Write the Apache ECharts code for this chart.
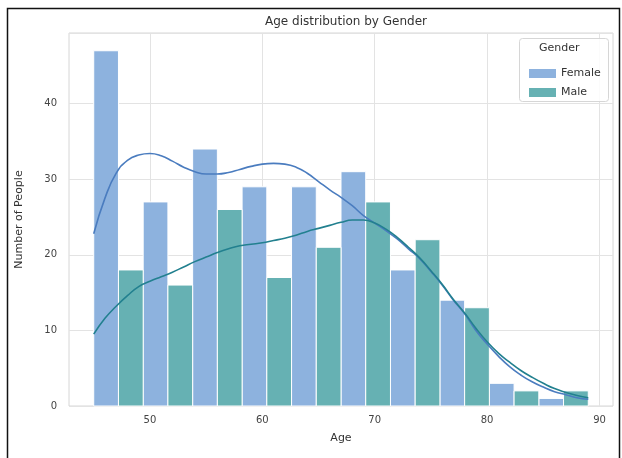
<!DOCTYPE html>
<html>
<head>
<meta charset="utf-8">
<script src="https://cdn.jsdelivr.net/npm/echarts@6/dist/echarts.min.js"></script>
<style>html,body{margin:0;padding:0;background:#fff;}#c{width:622px;height:458px;}</style>
</head>
<body>
<div id="c"></div>
<script>
// Histogram bin edges (Age)
const binEdges = [45, 49.4, 53.8, 58.2, 62.6, 67, 71.4, 75.8, 80.2, 84.6, 89];
// Counts per bin
const femaleCounts = [47, 27, 34, 29, 29, 31, 18, 14, 3, 1];
const maleCounts   = [18, 16, 26, 17, 21, 27, 22, 13, 2, 2];
// KDE curves [age, count]
const femaleKde = [[45,22.8],[46,27.5],[47,30.8],[48,32.5],[49,33.2],[50,33.4],[51,33.1],[52,32.4],[53,31.6],[54,31.0],[55,30.7],[56,30.7],[57,30.9],[58,31.3],[59,31.7],[60,32.0],[61,32.1],[62,32.0],[63,31.6],[64,30.8],[65,29.7],[66,28.6],[67,27.6],[68,26.5],[69,25.2],[70,24.2],[71,23.2],[72,22.1],[73,20.8],[74,19.5],[75,17.8],[76,16.0],[77,14.0],[78,12.2],[79,10.0],[80,8.2],[81,6.6],[82,5.2],[83,4.1],[84,3.2],[85,2.5],[86,1.9],[87,1.5],[88,1.1],[89,0.9]];
const maleKde = [[45,9.5],[46,11.6],[47,13.2],[48,14.6],[49,15.8],[50,16.5],[51,17.1],[52,17.7],[53,18.4],[54,19.1],[55,19.7],[56,20.3],[57,20.8],[58,21.2],[59,21.4],[60,21.6],[61,21.9],[62,22.2],[63,22.6],[64,23.1],[65,23.5],[66,23.9],[67,24.3],[68,24.6],[69,24.6],[70,24.2],[71,23.4],[72,22.3],[73,21.0],[74,19.6],[75,17.9],[76,16.1],[77,14.1],[78,12.3],[79,10.3],[80,8.5],[81,7.0],[82,5.8],[83,4.7],[84,3.8],[85,3.0],[86,2.3],[87,1.8],[88,1.4],[89,1.1]];
// Tick labels
const xTicks = [50, 60, 70, 80, 90];
const yTicks = [0, 10, 20, 30, 40];

const FEMALE_BAR = '#8db2de';
const MALE_BAR = '#66b1b3';
const FEMALE_LINE = '#4a7cbf';
const MALE_LINE = '#22808f';
const FONT = 'DejaVu Sans';

const femaleBars = femaleCounts.map((v, i) => [binEdges[i], (binEdges[i] + binEdges[i+1]) / 2, v]);
const maleBars = maleCounts.map((v, i) => [(binEdges[i] + binEdges[i+1]) / 2, binEdges[i+1], v]);

function makeRender(color) {
  return function (params, api) {
    const s = api.coord([api.value(0), 0]);
    const e = api.coord([api.value(1), api.value(2)]);
    return {
      type: 'rect',
      shape: { x: s[0], y: e[1], width: e[0] - s[0], height: s[1] - e[1] },
      style: { fill: color, stroke: '#ffffff', lineWidth: 1 }
    };
  };
}

const chart = echarts.init(document.getElementById('c'), null, { renderer: 'canvas' });
chart.setOption({
  animation: false,
  backgroundColor: '#fff',
  textStyle: { fontFamily: FONT },
  title: {
    text: 'Age distribution by Gender',
    left: 341, top: 11, textAlign: 'center',
    textStyle: { fontFamily: FONT, fontSize: 12, fontWeight: 'normal', color: '#333' }
  },
  grid: {
    left: 69, right: 9, top: 33, bottom: 52,
    show: true, borderColor: '#d6d6d6', borderWidth: 1, backgroundColor: 'transparent'
  },
  xAxis: {
    type: 'value', min: 42.8, max: 91.2,
    name: 'Age', nameLocation: 'middle', nameGap: 27,
    nameTextStyle: { fontFamily: FONT, fontSize: 11, color: '#333' },
    axisLine: { show: false },
    axisTick: { show: false, customValues: xTicks },
    axisLabel: { customValues: xTicks, fontFamily: FONT, fontSize: 10, color: '#444', margin: 9 },
    splitLine: { show: true, lineStyle: { color: '#e3e3e3', width: 1 } }
  },
  yAxis: {
    type: 'value', min: 0, max: 49.35, interval: 10,
    name: 'Number of People', nameLocation: 'middle', nameGap: 44,
    nameTextStyle: { fontFamily: FONT, fontSize: 11, color: '#333' },
    axisLine: { show: false },
    axisTick: { show: false },
    axisLabel: { fontFamily: FONT, fontSize: 10, color: '#444', margin: 12, showMaxLabel: false },
    splitLine: { show: true, lineStyle: { color: '#e3e3e3', width: 1 } }
  },
  legend: {
    data: ['Female', 'Male'],
    orient: 'vertical',
    left: 524, top: 63,
    icon: 'rect', itemWidth: 27, itemHeight: 9, itemGap: 8,
    textStyle: { fontFamily: FONT, fontSize: 11, color: '#333' },
    selectedMode: false
  },
  graphic: [
    { type: 'rect', left: 5, top: 6, shape: { width: 612, height: 470 }, style: { fill: 'none', stroke: '#111', lineWidth: 1.5 }, z: 10, silent: true },
    { type: 'rect', left: 519, top: 38, shape: { width: 89, height: 63, r: 3 }, style: { fill: 'rgba(255,255,255,0.85)', stroke: '#d6d6d6', lineWidth: 1 }, z: 3, silent: true },
    { type: 'text', left: 539, top: 43, style: { text: 'Gender', font: '11px "DejaVu Sans"', fill: '#333' }, z: 5, silent: true }
  ],
  series: [
    { name: 'Female', type: 'custom', renderItem: makeRender(FEMALE_BAR), data: femaleBars,
      encode: { x: [0, 1], y: 2 }, itemStyle: { color: FEMALE_BAR }, z: 2 },
    { name: 'Male', type: 'custom', renderItem: makeRender(MALE_BAR), data: maleBars,
      encode: { x: [0, 1], y: 2 }, itemStyle: { color: MALE_BAR }, z: 2 },
    { name: 'Female KDE', type: 'line', data: femaleKde, smooth: true, showSymbol: false,
      lineStyle: { color: FEMALE_LINE, width: 1.6 }, itemStyle: { color: FEMALE_LINE }, z: 3 },
    { name: 'Male KDE', type: 'line', data: maleKde, smooth: true, showSymbol: false,
      lineStyle: { color: MALE_LINE, width: 1.6 }, itemStyle: { color: MALE_LINE }, z: 3 }
  ]
});
</script>
</body>
</html>
